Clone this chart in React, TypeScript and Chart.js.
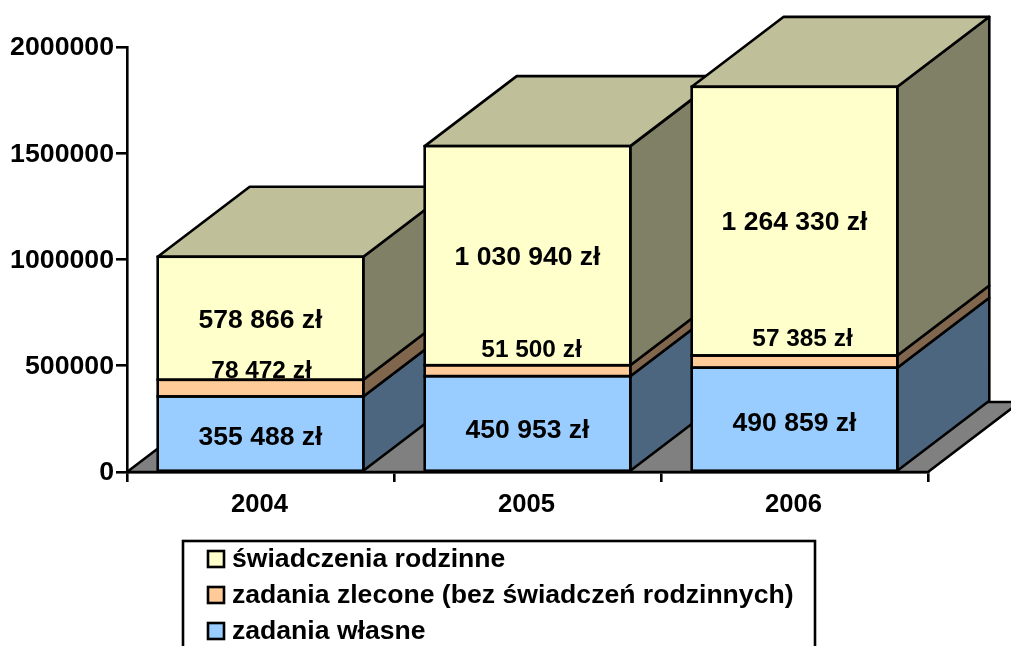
import React, { useEffect, useRef } from "react";
import { Chart, registerables } from "chart.js";

Chart.register(...registerables);

const categories = ["2004", "2005", "2006"];
const zadaniaWlasne = [355488, 450953, 490859];
const zadaniaZlecone = [78472, 51500, 57385];
const swiadczeniaRodzinne = [578866, 1030940, 1264330];

const seriesNames = ["zadania własne", "zadania zlecone (bez świadczeń rodzinnych)", "świadczenia rodzinne"];
const frontColors = ["#99CCFF", "#FFCC99", "#FFFFCC"];
const sideColors = ["#4D6680", "#80664D", "#808066"];
const topColor = "#BFBF99";
const floorColor = "#808080";

// nudges of the value labels relative to the centre of their segment
const labelNudgesY = [
  [4, 7, 4],
  [-17, -20, -22],
  [2, 2, 2],
];
const labelNudgesX = [
  [0, 0, 0],
  [1, 4, 8],
  [0, 0, 0],
];
const labelSizes = [26.5, 24.4, 26.5];

const DEPTH_X = 92;
const DEPTH_Y = 70;
const LINE = 2.6;
const FONT = '"Liberation Sans", Arial, sans-serif';

const formatValue = (v: number) => String(v).replace(/\B(?=(\d{3})+$)/g, " ") + " zł";

function poly(ctx: CanvasRenderingContext2D, pts: number[][], fill: string) {
  ctx.beginPath();
  pts.forEach((p, i) => (i ? ctx.lineTo(p[0], p[1]) : ctx.moveTo(p[0], p[1])));
  ctx.closePath();
  ctx.fillStyle = fill;
  ctx.fill();
  ctx.stroke();
}

const depthPlugin = {
  id: "depth3d",
  beforeDatasetsDraw(chart: any) {
    const { ctx, chartArea: a } = chart;
    ctx.save();
    ctx.strokeStyle = "#000";
    ctx.lineWidth = LINE;
    ctx.lineJoin = "round";
    poly(
      ctx,
      [
        [a.left, a.bottom],
        [a.right, a.bottom],
        [a.right + DEPTH_X, a.bottom - DEPTH_Y],
        [a.left + DEPTH_X, a.bottom - DEPTH_Y],
      ],
      floorColor
    );
    categories.forEach((_, j) => {
      chart.data.datasets.forEach((_d: any, i: number) => {
        const el = chart.getDatasetMeta(i).data[j];
        const r = el.x + el.width / 2;
        poly(
          ctx,
          [
            [r, el.base],
            [r + DEPTH_X, el.base - DEPTH_Y],
            [r + DEPTH_X, el.y - DEPTH_Y],
            [r, el.y],
          ],
          sideColors[i]
        );
      });
      const t = chart.getDatasetMeta(chart.data.datasets.length - 1).data[j];
      const l = t.x - t.width / 2;
      const r = t.x + t.width / 2;
      poly(
        ctx,
        [
          [l, t.y],
          [r, t.y],
          [r + DEPTH_X, t.y - DEPTH_Y],
          [l + DEPTH_X, t.y - DEPTH_Y],
        ],
        topColor
      );
    });
    ctx.restore();
  },
  afterDatasetsDraw(chart: any) {
    const { ctx } = chart;
    ctx.save();
    ctx.strokeStyle = "#000";
    ctx.lineWidth = LINE;
    ctx.lineJoin = "miter";
    // front-face outlines, centred on the segment edges
    chart.data.datasets.forEach((_d: any, i: number) => {
      chart.getDatasetMeta(i).data.forEach((el: any) => {
        ctx.strokeRect(el.x - el.width / 2, el.y, el.width, el.base - el.y);
      });
    });
    ctx.fillStyle = "#000";
    ctx.textAlign = "center";
    ctx.textBaseline = "middle";
    chart.data.datasets.forEach((ds: any, i: number) => {
      ctx.font = `bold ${labelSizes[i]}px ${FONT}`;
      chart.getDatasetMeta(i).data.forEach((el: any, j: number) => {
        ctx.fillText(
          formatValue(ds.data[j]),
          el.x + labelNudgesX[i][j],
          (el.y + el.base) / 2 + labelNudgesY[i][j]
        );
      });
    });
    // legend, listed from the top of the stack downwards
    const box = { left: 183, top: 541, right: 815, bottom: 660 };
    ctx.strokeRect(box.left, box.top, box.right - box.left, box.bottom - box.top);
    ctx.font = `bold 26.6px ${FONT}`;
    ctx.textAlign = "left";
    [2, 1, 0].forEach((s, row) => {
      const cy = 559 + row * 36;
      ctx.fillStyle = frontColors[s];
      ctx.fillRect(208, cy - 8, 16, 16);
      ctx.strokeRect(208, cy - 8, 16, 16);
      ctx.fillStyle = "#000";
      ctx.fillText(seriesNames[s], 232, cy + 1);
    });
    ctx.restore();
  },
};

export default function App() {
  const ref = useRef<HTMLCanvasElement>(null);
  useEffect(() => {
    const values = [zadaniaWlasne, zadaniaZlecone, swiadczeniaRodzinne];
    const chart = new Chart(ref.current as HTMLCanvasElement, {
      type: "bar",
      data: {
        labels: categories,
        datasets: values.map((data, i) => ({
          label: seriesNames[i],
          data,
          backgroundColor: frontColors[i],
          borderWidth: 0,
          barPercentage: 0.77,
          categoryPercentage: 1,
        })),
      },
      options: {
        responsive: false,
        animation: false,
        devicePixelRatio: 1,
        layout: { padding: { top: 47, right: 83, bottom: 0, left: 0 } },
        plugins: { legend: { display: false }, tooltip: { enabled: false }, title: { display: false } },
        scales: {
          x: {
            stacked: true,
            grid: { drawOnChartArea: false, color: "#000", lineWidth: 2.6, tickLength: 10, tickColor: "#000" },
            border: { color: "#000", width: 2.6 },
            ticks: {
              color: "#000",
              padding: 8,
              maxRotation: 0,
              labelOffset: -1,
              font: { family: FONT, size: 25.6, weight: "bold" },
            },
            afterFit: (s: any) => {
              s.height = 174;
            },
          },
          y: {
            stacked: true,
            min: 0,
            max: 2000000,
            grid: { drawOnChartArea: false, color: "#000", lineWidth: 2.6, tickLength: 11, tickColor: "#000" },
            border: { color: "#000", width: 2.6 },
            ticks: {
              stepSize: 500000,
              color: "#000",
              padding: 2,
              labelOffset: 1,
              font: { family: FONT, size: 26.7, weight: "bold" },
              callback: (v: any) => String(v),
            },
            afterFit: (s: any) => {
              s.width = 127;
            },
          },
        },
      },
      plugins: [depthPlugin],
    } as any);
    return () => chart.destroy();
  }, []);
  return (
    <canvas
      ref={ref}
      width={1011}
      height={646}
      style={{ position: "fixed", left: 0, top: 0, width: 1011, height: 646, display: "block" }}
    />
  );
}
